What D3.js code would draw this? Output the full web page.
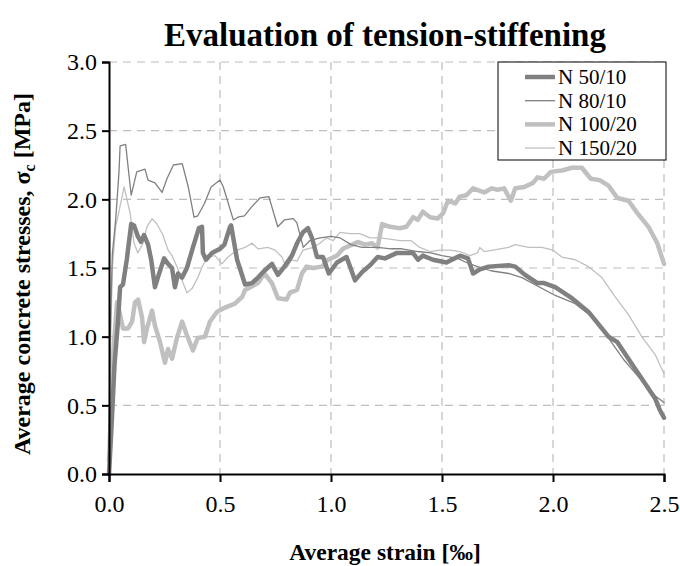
<!DOCTYPE html>
<html>
<head>
<meta charset="utf-8">
<script src="https://cdn.jsdelivr.net/npm/d3@7"></script>
<style>
  body { margin: 0; background: #fff; }
  svg, svg text { font-family: "Liberation Serif", "Times New Roman", Times, "DejaVu Serif", serif; }
</style>
</head>
<body>
<div id="chart"></div>
<script>
// series names shown in the legend
var seriesNames = ["N 50/10", "N 80/10", "N 100/20", "N 150/20"];

// N 50/10 - average strain [permille] / stress [MPa]
var strain50 = [0, 0.01, 0.025, 0.04, 0.05, 0.063, 0.08, 0.1, 0.113, 0.13, 0.144, 0.158, 0.176, 0.19, 0.207, 0.22, 0.248, 0.266, 0.284, 0.297, 0.311, 0.329, 0.351, 0.378, 0.405, 0.419, 0.423, 0.437, 0.464, 0.5, 0.52, 0.545, 0.55, 0.577, 0.613, 0.644, 0.671, 0.7, 0.734, 0.761, 0.79, 0.824, 0.847, 0.874, 0.896, 0.914, 0.937, 0.964, 0.99, 1.027, 1.07, 1.108, 1.14, 1.176, 1.21, 1.243, 1.297, 1.342, 1.369, 1.392, 1.414, 1.459, 1.52, 1.581, 1.617, 1.64, 1.671, 1.71, 1.8, 1.83, 1.874, 1.93, 1.96, 2.01, 2.085, 2.16, 2.2, 2.25, 2.29, 2.36, 2.41, 2.46, 2.48, 2.5];
var stress50 = [0, 0.3, 0.8, 1.1, 1.36, 1.38, 1.56, 1.82, 1.81, 1.73, 1.69, 1.74, 1.67, 1.56, 1.36, 1.43, 1.57, 1.53, 1.5, 1.36, 1.46, 1.43, 1.5, 1.65, 1.79, 1.8, 1.61, 1.56, 1.61, 1.64, 1.67, 1.8, 1.81, 1.56, 1.38, 1.39, 1.43, 1.48, 1.53, 1.45, 1.51, 1.59, 1.68, 1.76, 1.79, 1.72, 1.58, 1.58, 1.46, 1.54, 1.58, 1.41, 1.47, 1.52, 1.58, 1.57, 1.61, 1.61, 1.61, 1.56, 1.59, 1.56, 1.54, 1.59, 1.57, 1.46, 1.49, 1.51, 1.52, 1.51, 1.45, 1.39, 1.39, 1.36, 1.28, 1.18, 1.1, 1.0, 0.96, 0.79, 0.67, 0.55, 0.47, 0.41];

// N 80/10
var strain80 = [0, 0.005, 0.015, 0.03, 0.045, 0.05, 0.075, 0.1, 0.125, 0.162, 0.176, 0.207, 0.239, 0.261, 0.29, 0.33, 0.357, 0.383, 0.4, 0.43, 0.46, 0.5, 0.515, 0.56, 0.58, 0.61, 0.64, 0.68, 0.72, 0.76, 0.79, 0.83, 0.846, 0.875, 0.905, 0.95, 1.0, 1.04, 1.09, 1.14, 1.21, 1.27, 1.32, 1.39, 1.45, 1.5, 1.57, 1.61, 1.66, 1.72, 1.8, 1.86, 2.01, 2.1, 2.18, 2.25, 2.32, 2.4, 2.46, 2.5];
var stress80 = [0.2, 1.0, 1.6, 1.85, 2.2, 2.39, 2.4, 2.03, 2.2, 2.22, 2.14, 2.12, 2.05, 2.15, 2.25, 2.26, 2.09, 1.87, 1.88, 1.97, 2.09, 2.14, 2.09, 1.85, 1.87, 1.88, 1.94, 2.01, 2.02, 1.8, 1.85, 1.86, 1.83, 1.65, 1.7, 1.72, 1.73, 1.72, 1.67, 1.65, 1.65, 1.64, 1.64, 1.62, 1.61, 1.59, 1.57, 1.54, 1.51, 1.48, 1.46, 1.43, 1.3, 1.24, 1.14, 0.99, 0.83, 0.68, 0.57, 0.52];

// N 100/20
var strain100 = [0, 0.01, 0.02, 0.036, 0.05, 0.063, 0.086, 0.104, 0.117, 0.131, 0.149, 0.158, 0.171, 0.194, 0.207, 0.23, 0.252, 0.266, 0.284, 0.306, 0.329, 0.351, 0.378, 0.4, 0.432, 0.455, 0.486, 0.52, 0.567, 0.6, 0.613, 0.671, 0.7, 0.734, 0.761, 0.8, 0.815, 0.847, 0.869, 0.89, 0.92, 0.959, 0.986, 1.027, 1.054, 1.095, 1.12, 1.153, 1.185, 1.21, 1.23, 1.266, 1.31, 1.34, 1.37, 1.39, 1.414, 1.446, 1.48, 1.505, 1.527, 1.56, 1.58, 1.61, 1.64, 1.69, 1.725, 1.75, 1.78, 1.81, 1.83, 1.87, 1.91, 1.93, 1.96, 1.99, 2.04, 2.085, 2.13, 2.17, 2.21, 2.25, 2.29, 2.34, 2.38, 2.43, 2.47, 2.5];
var stress100 = [0.1, 0.5, 0.9, 1.25, 1.16, 1.06, 1.06, 1.11, 1.25, 1.27, 1.14, 0.96, 1.06, 1.19, 1.08, 0.96, 0.81, 0.91, 0.84, 0.99, 1.11, 1.01, 0.9, 0.99, 1.0, 1.11, 1.18, 1.21, 1.24, 1.29, 1.34, 1.39, 1.46, 1.39, 1.28, 1.27, 1.32, 1.34, 1.46, 1.51, 1.5, 1.51, 1.56, 1.59, 1.64, 1.67, 1.69, 1.67, 1.68, 1.65, 1.82, 1.8, 1.79, 1.8, 1.87, 1.85, 1.91, 1.87, 1.86, 1.9, 1.99, 1.97, 2.02, 2.03, 2.08, 2.05, 2.08, 2.07, 2.08, 1.99, 2.08, 2.09, 2.12, 2.16, 2.15, 2.2, 2.21, 2.23, 2.23, 2.15, 2.14, 2.1, 2.01, 1.99, 1.9, 1.8, 1.68, 1.53];

// N 150/20
var strain150 = [0, 0.008, 0.015, 0.03, 0.05, 0.068, 0.095, 0.113, 0.13, 0.153, 0.171, 0.194, 0.216, 0.243, 0.266, 0.284, 0.306, 0.329, 0.351, 0.374, 0.4, 0.423, 0.446, 0.477, 0.509, 0.536, 0.577, 0.613, 0.644, 0.671, 0.716, 0.748, 0.779, 0.8, 0.824, 0.847, 0.874, 0.92, 0.95, 0.98, 1.01, 1.04, 1.085, 1.13, 1.176, 1.22, 1.266, 1.31, 1.36, 1.4, 1.446, 1.49, 1.536, 1.58, 1.626, 1.66, 1.67, 1.69, 1.73, 1.8, 1.83, 1.89, 1.95, 2.0, 2.04, 2.1, 2.16, 2.22, 2.28, 2.34, 2.4, 2.46, 2.5];
var stress150 = [0.15, 1.0, 1.5, 1.8, 1.95, 2.09, 1.9, 1.68, 1.61, 1.68, 1.8, 1.86, 1.82, 1.74, 1.63, 1.59, 1.51, 1.41, 1.32, 1.35, 1.43, 1.52, 1.58, 1.59, 1.53, 1.58, 1.63, 1.65, 1.68, 1.64, 1.65, 1.63, 1.58, 1.5, 1.56, 1.55, 1.63, 1.65, 1.68, 1.72, 1.7, 1.76, 1.75, 1.75, 1.72, 1.72, 1.71, 1.7, 1.7, 1.65, 1.62, 1.63, 1.63, 1.62, 1.59, 1.61, 1.65, 1.62, 1.63, 1.65, 1.67, 1.65, 1.65, 1.63, 1.58, 1.56, 1.51, 1.43, 1.29, 1.16, 1.0, 0.87, 0.73];

var xTicks = [0, 0.5, 1.0, 1.5, 2.0, 2.5];
var yTicks = [0, 0.5, 1.0, 1.5, 2.0, 2.5, 3.0];

var serif = "'Liberation Serif', 'Times New Roman', Times, 'DejaVu Serif', serif";

var totalWidth = 680,
    totalHeight = 566,
    margin = { top: 62, right: 16, bottom: 92, left: 109 },
    width = totalWidth - margin.left - margin.right,
    height = totalHeight - margin.top - margin.bottom;

var svg = d3.select("#chart")
    .append("svg")
    .attr("width", totalWidth)
    .attr("height", totalHeight)
    .style("font-family", serif);

// make title
svg.append("text")
    .attr("x", 385)
    .attr("y", 46)
    .attr("text-anchor", "middle")
    .style("font-family", serif)
    .attr("font-size", 33)
    .attr("font-weight", "bold")
    .text("Evaluation of tension-stiffening");

var g = svg.append("g").attr("transform", "translate(" + margin.left + "," + margin.top + ")");

var xScale = d3.scaleLinear().domain([0, 2.5]).range([0, width]);
var yScale = d3.scaleLinear().domain([0, 3.0]).range([height, 0]);

// dashed grid
g.append("g")
    .selectAll("line")
    .data(xTicks.slice(1))
    .enter().append("line")
        .attr("x1", function(d) { return xScale(d); })
        .attr("x2", function(d) { return xScale(d); })
        .attr("y1", 0)
        .attr("y2", height)
        .attr("stroke", "#bdbdbd")
        .attr("stroke-width", 1.2)
        .attr("stroke-dasharray", "8,6");

g.append("g")
    .selectAll("line")
    .data(yTicks.slice(1))
    .enter().append("line")
        .attr("x1", 0)
        .attr("x2", width)
        .attr("y1", function(d) { return yScale(d); })
        .attr("y2", function(d) { return yScale(d); })
        .attr("stroke", "#bdbdbd")
        .attr("stroke-width", 1.2)
        .attr("stroke-dasharray", "8,6");

// curves
var series = [
    { name: seriesNames[0], x: strain50, y: stress50, color: "#808080", w: 4.5 },
    { name: seriesNames[1], x: strain80, y: stress80, color: "#808080", w: 1.3 },
    { name: seriesNames[2], x: strain100, y: stress100, color: "#c0c0c0", w: 4.5 },
    { name: seriesNames[3], x: strain150, y: stress150, color: "#c0c0c0", w: 1.3 }
];

var line = d3.line()
    .x(function(d) { return xScale(d[0]); })
    .y(function(d) { return yScale(d[1]); });

// draw light ones first so dark ones are on top
[3, 2, 1, 0].forEach(function(i) {
    var s = series[i];
    g.append("path")
        .datum(d3.zip(s.x, s.y))
        .attr("fill", "none")
        .attr("stroke", s.color)
        .attr("stroke-width", s.w)
        .attr("stroke-linejoin", "round")
        .attr("stroke-linecap", "round")
        .attr("d", line);
});

// axes
var xAxis = g.append("g")
    .attr("transform", "translate(0," + height + ")")
    .call(d3.axisBottom(xScale).tickValues(xTicks).tickFormat(d3.format(".1f")).tickSizeOuter(0).tickSize(8).tickPadding(13));

var yAxis = g.append("g")
    .call(d3.axisLeft(yScale).tickValues(yTicks).tickFormat(d3.format(".1f")).tickSizeOuter(0).tickSize(7).tickPadding(5));

[xAxis, yAxis].forEach(function(ax) {
    ax.attr("font-family", null).style("font-family", serif);
    ax.select(".domain").attr("stroke", "#000").attr("stroke-width", 2);
    ax.selectAll(".tick line").attr("stroke", "#000").attr("stroke-width", 2);
    ax.selectAll(".tick text")
        .attr("fill", "#000")
        .style("font-family", serif)
        .attr("font-size", 24);
});

// axis titles
svg.append("text")
    .attr("x", 385)
    .attr("y", 560)
    .attr("text-anchor", "middle")
    .style("font-family", serif)
    .attr("font-size", 23.5)
    .attr("font-weight", "bold")
    .text("Average strain [‰]");

var yTitle = svg.append("text")
    .attr("transform", "translate(30,274) rotate(-90)")
    .attr("text-anchor", "middle")
    .style("font-family", serif)
    .attr("font-size", 24)
    .attr("font-weight", "bold");
yTitle.append("tspan").text("Average concrete stresses, σ");
yTitle.append("tspan").attr("font-size", 16).attr("dy", 5).text("c");
yTitle.append("tspan").attr("dy", -5).text(" [MPa]");

// legend
var legend = svg.append("g").attr("transform", "translate(498,62)");
legend.append("rect")
    .attr("width", 168)
    .attr("height", 98)
    .attr("fill", "#fff")
    .attr("stroke", "#000")
    .attr("stroke-width", 1);

var item = legend.selectAll(".item")
    .data(series)
    .enter().append("g")
        .attr("class", "item")
        .attr("transform", function(d, i) { return "translate(0," + (15 + i * 23.7) + ")"; });

item.append("line")
    .attr("x1", 27)
    .attr("x2", 57)
    .attr("stroke", function(d) { return d.color; })
    .attr("stroke-width", function(d) { return d.w; });

item.append("text")
    .attr("x", 60)
    .attr("y", 7)
    .style("font-family", serif)
    .attr("font-size", 21)
    .text(function(d) { return d.name; });
</script>
</body>
</html>
